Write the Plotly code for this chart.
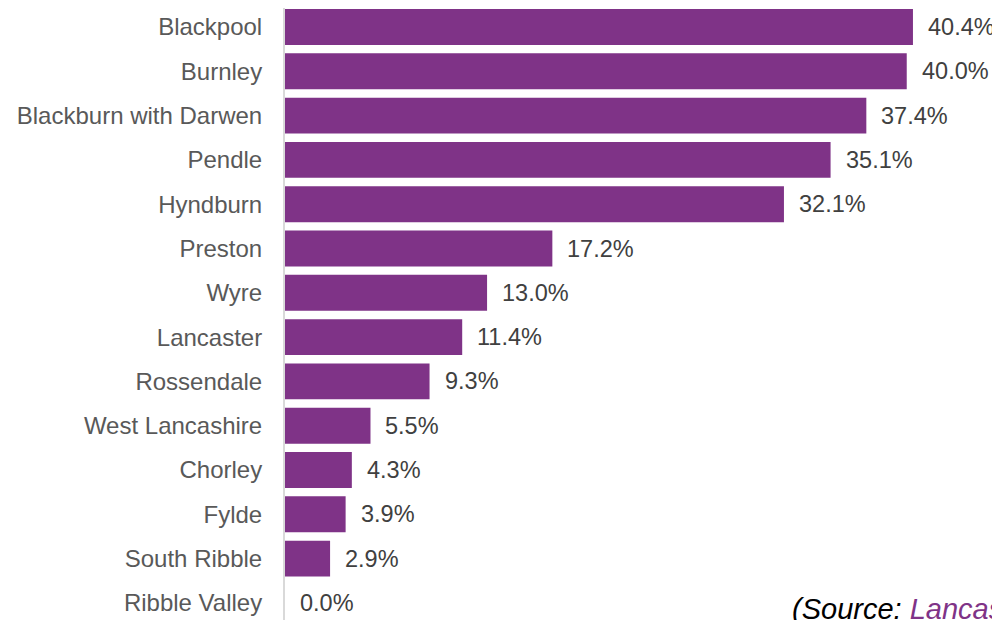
import plotly.graph_objects as go

districts = ["Blackpool", "Burnley", "Blackburn with Darwen", "Pendle", "Hyndburn",
             "Preston", "Wyre", "Lancaster", "Rossendale", "West Lancashire",
             "Chorley", "Fylde", "South Ribble", "Ribble Valley"]
values = [40.4, 40.0, 37.4, 35.1, 32.1, 17.2, 13.0, 11.4, 9.3, 5.5, 4.3, 3.9, 2.9, 0.0]
value_labels = [f"{v:.1f}%" for v in values]

bar_color = "#7F3387"
tick_color = "#595959"
value_color = "#404040"
FONT = "Arial, Liberation Sans, sans-serif"

fig = go.Figure()
fig.add_trace(go.Bar(
    x=values, y=districts, orientation="h",
    marker=dict(color=bar_color, line=dict(width=0)),
    width=0.81,
    hoverinfo="skip",
))

for d, v, lab in zip(districts, values, value_labels):
    fig.add_annotation(x=v, y=d, xref="x", yref="y", text=lab, showarrow=False,
                       xanchor="left", yanchor="middle", xshift=13,
                       font=dict(family=FONT, size=23.5, color=value_color))

fig.add_annotation(
    xref="paper", yref="paper", x=(790 - 8 - 277) / 715, y=0, xanchor="left", yanchor="bottom",
    yshift=-7, showarrow=False,
    text="<i>(Source: <span style='color:#7F3387'>Lancashire County Council</span>)</i>",
    font=dict(family=FONT, size=29, color="#000000"),
)

fig.update_layout(
    width=992, height=612,
    margin=dict(l=277, r=0, t=0, b=0, autoexpand=False),
    paper_bgcolor="white", plot_bgcolor="white",
    showlegend=False,
    font=dict(family=FONT, size=24, color=tick_color),
    xaxis=dict(range=[0, 46.0], visible=False, showgrid=False, zeroline=False),
    yaxis=dict(range=[13.386, -0.429], showgrid=False, zeroline=False,
               showline=True, linecolor="#D9D9D9", linewidth=2,
               ticks="", ticklabelstandoff=16, automargin=False,
               tickfont=dict(family=FONT, size=24, color=tick_color)),
)

fig.write_html("out.html")
